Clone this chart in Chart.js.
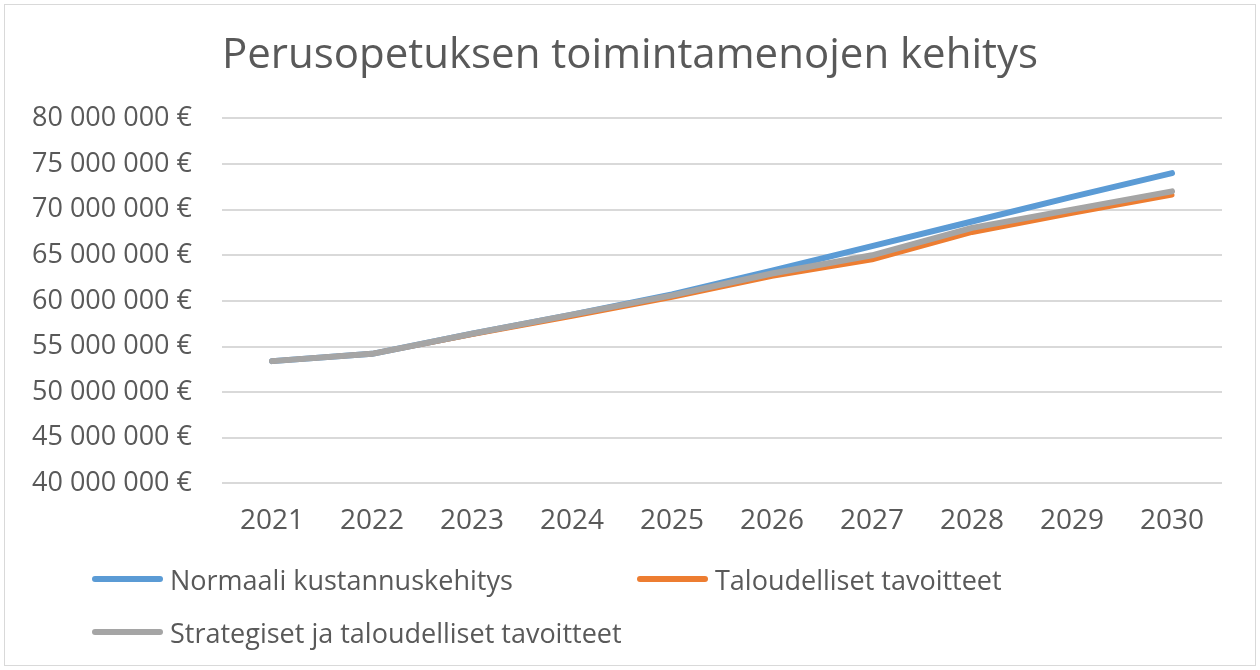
<!DOCTYPE html>
<html lang="fi">
<head>
<meta charset="UTF-8">
<title>Perusopetuksen toimintamenojen kehitys</title>
<script src="https://cdn.jsdelivr.net/npm/chart.js"></script>
<style>
  body { margin: 0; background: #fff; }
  .wrap { position: relative; width: 1260px; height: 670px; }
  .frame {
    position: absolute; left: 4px; top: 4px; width: 1250px; height: 660px;
    border: 1px solid #d9d9d9; pointer-events: none;
  }
  .legend-item {
    position: absolute; display: flex; align-items: center;
    font-family: "Open Sans", sans-serif; font-size: 27px; color: #595959;
  }
  .legend-item .swatch {
    width: 71px; height: 6px; border-radius: 3px; margin-right: 7px;
  }
</style>
</head>
<body>
<div class="wrap">
  <canvas id="chart" width="1260" height="670"></canvas>
  <div class="frame"></div>
  <div id="legend"></div>
</div>
<script>
  // data
  const years = ['2021', '2022', '2023', '2024', '2025', '2026', '2027', '2028', '2029', '2030'];
  const normaali = [53400000, 54200000, 56400000, 58500000, 60700000, 63300000, 66000000, 68700000, 71400000, 74000000];
  const taloudelliset = [53400000, 54200000, 56300000, 58300000, 60400000, 62700000, 64500000, 67500000, 69600000, 71600000];
  const strategiset = [53400000, 54200000, 56400000, 58500000, 60600000, 63000000, 65000000, 68000000, 70000000, 72000000];

  const labels = ['Normaali kustannuskehitys', 'Taloudelliset tavoitteet', 'Strategiset ja taloudelliset tavoitteet'];
  const colors = ['#5b9bd5', '#ed7d31', '#a5a5a5'];
  const textColor = '#595959';

  function euro(v) {
    return String(v).replace(/\B(?=(\d{3})+(?!\d))/g, ' ') + ' €';
  }

  const ctx = document.getElementById('chart').getContext('2d');
  const chart = new Chart(ctx, {
    type: 'line',
    data: {
      labels: years,
      datasets: [
        { label: labels[0], data: normaali, borderColor: colors[0], borderWidth: 6, order: 3 },
        { label: labels[1], data: taloudelliset, borderColor: colors[1], borderWidth: 5, order: 2 },
        { label: labels[2], data: strategiset, borderColor: colors[2], borderWidth: 6, order: 1 }
      ]
    },
    options: {
      responsive: false,
      animation: false,
      elements: {
        point: { radius: 0 },
        line: { tension: 0, borderCapStyle: 'round', borderJoinStyle: 'round', fill: false }
      },
      layout: { padding: { top: 31, right: 0, bottom: 119, left: 0 } },
      plugins: {
        legend: { display: false },
        tooltip: { enabled: false },
        title: {
          display: true,
          text: 'Perusopetuksen toimintamenojen kehitys',
          color: textColor,
          font: { family: 'Open Sans', size: 42, weight: 'normal' },
          padding: { top: 0, bottom: 37 }
        }
      },
      scales: {
        x: {
          offset: true,
          grid: { display: false },
          border: { display: false },
          ticks: { color: textColor, font: { family: 'Open Sans', size: 28 }, padding: 13, maxRotation: 0 }
        },
        y: {
          min: 40000000,
          max: 80000000,
          afterFit: (axis) => { axis.width = 222; },
          grid: { color: '#d9d9d9', lineWidth: 2, drawTicks: false },
          border: { display: false },
          ticks: {
            stepSize: 5000000,
            color: textColor,
            font: { family: 'Open Sans', size: 27 },
            padding: 30,
            callback: (v) => euro(v)
          }
        },
        // empty right-hand margin so the title sits where the original has it
        spacer: {
          position: 'right',
          min: 0,
          max: 1,
          afterFit: (axis) => { axis.width = 38; },
          grid: { display: false },
          border: { display: false },
          ticks: { display: false }
        }
      }
    }
  });

  // legend laid out like the original: two columns, two rows
  const legendPos = [[92, 579], [637, 579], [92, 632]];
  const legend = document.getElementById('legend');
  labels.forEach((name, i) => {
    const item = document.createElement('div');
    item.className = 'legend-item';
    item.style.left = legendPos[i][0] + 'px';
    item.style.top = (legendPos[i][1] - 18) + 'px';
    item.style.height = '36px';
    item.innerHTML = '<span class="swatch" style="background:' + colors[i] + '"></span><span>' + name + '</span>';
    legend.appendChild(item);
  });
</script>
</body>
</html>
